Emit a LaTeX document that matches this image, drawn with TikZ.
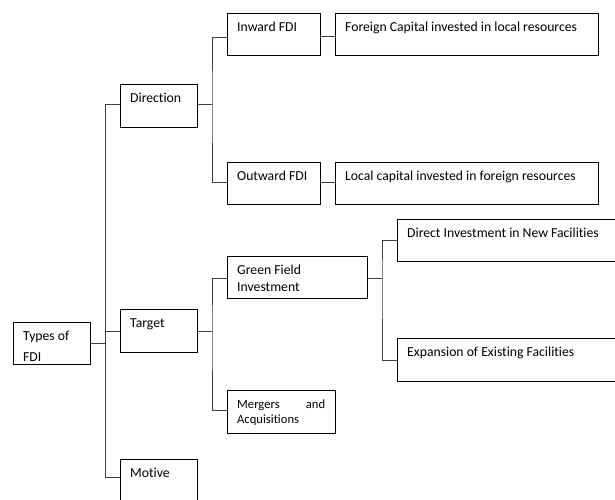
\documentclass[tikz,border=0pt]{standalone}
\usepackage{fontspec}
\setmainfont{Carlito}[Ligatures=NoCommon]
\tikzset{
  box/.style={draw=black, line width=0.9pt, inner sep=0pt, anchor=north west},
  lbl/.style={inner sep=0pt, anchor=base west, align=flush left},
  conn/.style={draw=black!75, line width=0.9pt}
}
\newcommand\mybox[7]{%
  \node[box, minimum width={(#4-#2)*1pt}, minimum height={(#5-#3)*1pt}] (#1) at (#2,#3) {};
  \node[lbl, font={#7}, text width={(#4-#2-20)*1pt}] (#1-t) at (#2+10,#3+18) {#6};
}
\begin{document}
\begin{tikzpicture}[x=1pt,y=-1pt]
\useasboundingbox (0,0) rectangle (615,499);
\clip (0,0) rectangle (615,499);
\mybox{types}{13}{322}{90}{364}{Types of\\[9pt]FDI}{\fontsize{13.7}{12}\selectfont}
\mybox{dir}{120}{84}{197}{127}{Direction}{\fontsize{13.7}{12}\selectfont}
\mybox{tgt}{120}{309}{197}{352}{Target}{\fontsize{13.7}{12}\selectfont}
\mybox{mot}{120}{459}{197}{501}{Motive}{\fontsize{13.7}{12}\selectfont}
\mybox{inw}{227}{13}{320}{55}{Inward FDI}{\fontsize{13.7}{12}\selectfont}
\mybox{outw}{227}{162}{320}{204}{Outward FDI}{\fontsize{13.7}{12}\selectfont}
\mybox{fc}{335}{13}{598}{55}{Foreign Capital invested in local resources}{\fontsize{13.7}{12}\selectfont}
\mybox{lc}{335}{162}{598}{204}{Local capital invested in foreign resources}{\fontsize{13.7}{12}\selectfont}
\mybox{gf}{227}{256}{367}{298}{Green Field\\[5pt]Investment}{\fontsize{13.7}{12}\selectfont}
\mybox{ma}{227}{390}{335}{433}{Mergers\hfill and\\[3pt]Acquisitions}{\fontsize{12.6}{12}\selectfont}
\mybox{di}{397}{219}{625}{261}{Direct Investment in New Facilities}{\fontsize{13.7}{12}\selectfont}
\mybox{ex}{397}{338}{625}{381}{Expansion of Existing Facilities}{\fontsize{13.7}{12}\selectfont}
% connectors
\coordinate (j1) at (105,343);
\coordinate (j2) at (212,104);
\coordinate (j3) at (212,331);
\coordinate (j4) at (382,278);
\draw[conn] (types.east |- j1) -- (j1);
\draw[conn] ([yshift=1.5pt]dir.west) -| (j1);
\draw[conn] (j1) |- ([yshift=3pt]mot.west);
\draw[conn] (tgt.west) -- (tgt.west -| j1);
\draw[conn] (dir.east |- j2) -- (j2);
\draw[conn] ([yshift=-3pt]inw.west) -| (j2) |- ([yshift=1.5pt]outw.west);
\draw[conn] ([yshift=-2pt]inw.east) -- ([yshift=-2pt]fc.west);
\draw[conn] ([yshift=1.5pt]outw.east) -- ([yshift=1.5pt]lc.west);
\draw[conn] (tgt.east |- j3) -- (j3);
\draw[conn] ([yshift=-1pt]gf.west) -| (j3) |- ([yshift=1.5pt]ma.west);
\draw[conn] (gf.east |- j4) -- (j4);
\draw[conn] (di.west) -| (j4) |- (ex.west);
\end{tikzpicture}
\end{document}
